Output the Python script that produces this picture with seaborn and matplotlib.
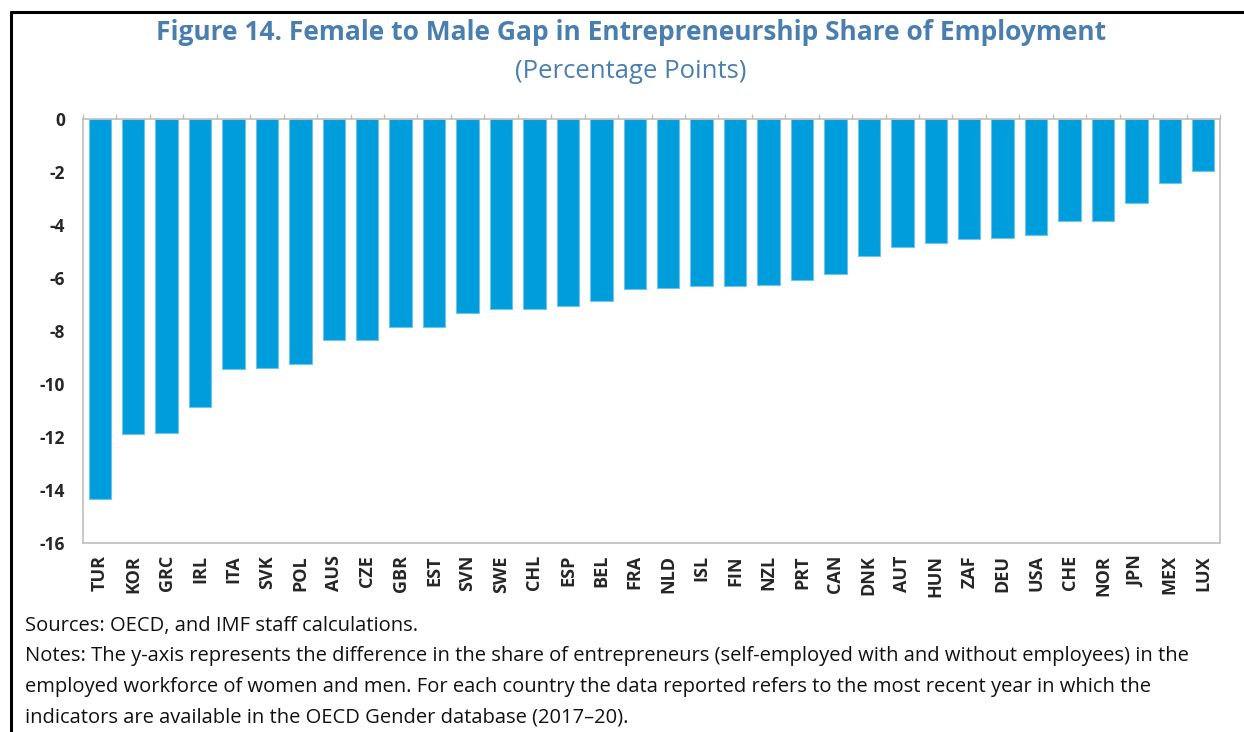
import matplotlib.pyplot as plt
import matplotlib.lines as mlines
import pandas as pd
import seaborn as sns
from matplotlib.ticker import FixedLocator

countries = ["TUR", "KOR", "GRC", "IRL", "ITA", "SVK", "POL", "AUS", "CZE", "GBR",
             "EST", "SVN", "SWE", "CHL", "ESP", "BEL", "FRA", "NLD", "ISL", "FIN",
             "NZL", "PRT", "CAN", "DNK", "AUT", "HUN", "ZAF", "DEU", "USA", "CHE",
             "NOR", "JPN", "MEX", "LUX"]
gap = [-14.32, -11.87, -11.86, -10.86, -9.44, -9.38, -9.23, -8.33, -8.33, -7.84,
       -7.84, -7.31, -7.17, -7.17, -7.05, -6.86, -6.43, -6.39, -6.32, -6.32,
       -6.28, -6.06, -5.86, -5.17, -4.84, -4.70, -4.54, -4.51, -4.38, -3.84,
       -3.84, -3.19, -2.44, -1.98]
y_ticks = [0, -2, -4, -6, -8, -10, -12, -14, -16]

title = "Figure 14. Female to Male Gap in Entrepreneurship Share of Employment"
subtitle = "(Percentage Points)"
notes = [
    "Sources: OECD, and IMF staff calculations.",
    "Notes: The y-axis represents the difference in the share of entrepreneurs (self-employed with and without employees) in the",
    "employed workforce of women and men. For each country the data reported refers to the most recent year in which the",
    "indicators are available in the OECD Gender database (2017\u201320).",
]

df = pd.DataFrame({"country": countries, "gap": gap})

sns.set_style("white")
plt.rcParams["font.family"] = ["Open Sans", "DejaVu Sans"]

W, H = 1244, 732
fig = plt.figure(figsize=(W / 100, H / 100), dpi=100)
ax = fig.add_axes([83 / W, 1 - 543.3 / H, 1137 / W, (543.3 - 118.7) / H])

sns.barplot(data=df, x="country", y="gap", color="#009DDC", saturation=1,
            width=0.67, edgecolor="#6FC3EC", linewidth=0.8, ax=ax)

ax.set_xlim(-0.5, len(countries) - 0.5)
ax.set_ylim(-16, 0)
ax.set_xlabel("")
ax.set_ylabel("")

grey = "#BFBFBF"
for s in ax.spines.values():
    s.set_color(grey)
    s.set_linewidth(1.2)

ax.yaxis.set_major_locator(FixedLocator(y_ticks))
ax.set_yticklabels([str(v) for v in y_ticks], fontsize=12.5, fontweight="bold")
ax.tick_params(axis="y", direction="out", length=3.6, color=grey, width=1, pad=9.5)

ax.set_xticks(range(len(countries)))
ax.set_xticklabels(countries, rotation=90, fontsize=13, fontweight="bold")
ax.tick_params(axis="x", which="major", length=0, pad=8.5)
ax.set_xticks([i + 0.5 for i in range(-1, len(countries))], minor=True)
ax.tick_params(axis="x", which="minor", top=True, bottom=False, direction="out",
               length=3.6, color=grey, width=1)

fig.text(631 / W, 1 - 33 / H, title, ha="center", va="center", fontsize=19,
         fontweight="bold", color="#4A7EAE")
fig.text(631 / W, 1 - 71 / H, subtitle, ha="center", va="center", fontsize=18.5,
         color="#4A7EAE")

for i, line in enumerate(notes):
    fig.text(25 / W, 1 - (626 + 30.5 * i) / H, line, ha="left", va="center",
             fontsize=14.5, color="#111111")

# outer frame (top and left edges)
fig.add_artist(mlines.Line2D([10.5 / W, 1], [1 - 12 / H, 1 - 12 / H],
                             color="black", linewidth=2.2, transform=fig.transFigure))
fig.add_artist(mlines.Line2D([10.5 / W, 10.5 / W], [0, 1 - 12 / H],
                             color="black", linewidth=2.2, transform=fig.transFigure))

fig.savefig("out.png", dpi=100)
